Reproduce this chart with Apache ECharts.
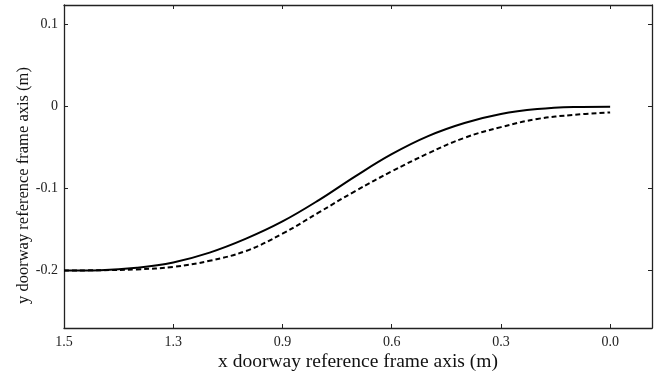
<!DOCTYPE html>
<html>
<head>
<meta charset="utf-8">
<script src="https://cdn.jsdelivr.net/npm/echarts@6/dist/echarts.min.js"></script>
<style>
  html, body { margin: 0; padding: 0; background: #fff; }
  #chart { width: 661px; height: 374px; }
</style>
</head>
<body>
<div id="chart"></div>
<script>
// x positions along the doorway frame (m)
const pathX = [1.5, 1.4, 1.3, 1.2, 1.1, 1.0, 0.9, 0.8, 0.7, 0.6, 0.5, 0.4, 0.3, 0.2, 0.1, 0.0];
const solidY = [-0.2, -0.1995, -0.1965, -0.19, -0.178, -0.161, -0.14, -0.114, -0.085, -0.058, -0.036, -0.02, -0.009, -0.003, -0.0005, 0.0];
const dashY = [-0.2, -0.1995, -0.1985, -0.1955, -0.188, -0.176, -0.155, -0.129, -0.103, -0.079, -0.057, -0.038, -0.025, -0.015, -0.01, -0.007];

const xTickValues = [1.5, 1.2, 0.9, 0.6, 0.3, 0.0];
const xTickLabels = ["1.5", "1.3", "0.9", "0.6", "0.3", "0.0"];
const yTickValues = [0.1, 0, -0.1, -0.2];
const yTickLabels = ["0.1", "0", "-0.1", "-0.2"];

const font = "Liberation Serif";
const axisLine = { show: true, onZero: false, lineStyle: { color: "#222", width: 1.3 } };

let chart = echarts.init(document.getElementById("chart"));

let xBase = {
  type: "value",
  inverse: true,
  min: -0.115,
  max: 1.5,
  axisLine: axisLine,
  splitLine: { show: false },
  axisTick: { inside: true, length: 4, customValues: xTickValues, lineStyle: { color: "#222" } },
};
let yBase = {
  type: "value",
  min: -0.27,
  max: 0.124,
  axisLine: axisLine,
  splitLine: { show: false },
  axisTick: { inside: true, length: 4, customValues: yTickValues, lineStyle: { color: "#222" } },
};

let option = {
  animation: false,
  backgroundColor: "#fff",
  grid: { left: 64, right: 9, top: 5, bottom: 46, containLabel: false, outerBoundsMode: "none" },
  xAxis: [
    Object.assign({}, xBase, {
      position: "bottom",
      name: "x doorway reference frame axis (m)",
      nameLocation: "middle",
      nameGap: 24,
      nameMoveOverlap: false,
      nameTextStyle: { fontFamily: font, fontSize: 19.5, color: "#111" },
      axisLabel: {
        customValues: xTickValues,
        margin: 7,
        fontFamily: font,
        fontSize: 14,
        color: "#222",
        formatter: function (value) {
          let i = xTickValues.findIndex((v) => Math.abs(v - value) < 1e-6);
          return i >= 0 ? xTickLabels[i] : "";
        },
      },
    }),
    Object.assign({}, xBase, { position: "top", axisLabel: { show: false } }),
  ],
  yAxis: [
    Object.assign({}, yBase, {
      position: "left",
      name: "y doorway reference frame axis (m)",
      nameLocation: "middle",
      nameGap: 32,
      nameMoveOverlap: false,
      nameTextStyle: { fontFamily: font, fontSize: 16.5, color: "#111", padding: [0, 38, 0, 0] },
      axisLabel: {
        customValues: yTickValues,
        margin: 6,
        fontFamily: font,
        fontSize: 14,
        color: "#222",
        formatter: function (value) {
          let i = yTickValues.findIndex((v) => Math.abs(v - value) < 1e-6);
          return i >= 0 ? yTickLabels[i] : "";
        },
      },
    }),
    Object.assign({}, yBase, { position: "right", axisLabel: { show: false } }),
  ],
  series: [
    {
      type: "line",
      data: pathX.map((x, i) => [x, solidY[i]]),
      smooth: 0.4,
      showSymbol: false,
      lineStyle: { color: "#000", width: 2 },
    },
    {
      type: "line",
      data: pathX.map((x, i) => [x, dashY[i]]),
      smooth: 0.4,
      showSymbol: false,
      lineStyle: { color: "#000", width: 2, type: [5, 3] },
    },
  ],
};
chart.setOption(option);
</script>
</body>
</html>
